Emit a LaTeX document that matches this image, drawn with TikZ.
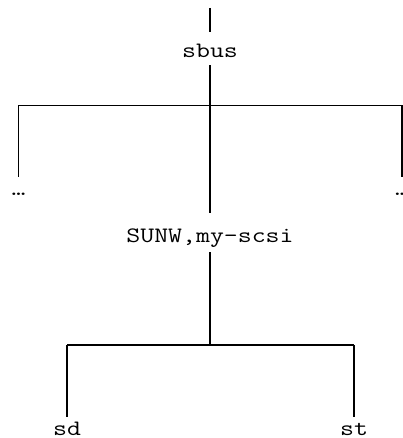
\documentclass[tikz,border=0pt]{standalone}
\begin{document}
\begin{tikzpicture}[x=1pt,y=-1pt,
  lbl/.style={font=\ttfamily\fontsize{22}{24}\selectfont, xscale=1.23, inner sep=0pt, text height=15pt, text depth=0pt, anchor=base},
  wire/.style={line width=1.3pt}]
\useasboundingbox (0,0) rectangle (403,438);
\coordinate (top) at (210,8);
\node[lbl] (sbus) at (210,58) {sbus};
\coordinate (bus1) at (210,105.5);
\coordinate (l1) at (18.5,105.5);
\coordinate (r1) at (402,105.5);
\node[lbl] (left) at (18.5,195) {…};
\node[lbl] (right) at (402,195) {…};
\node[lbl] (scsi) at (210,242) {SUNW,my-scsi};
\coordinate (bus2) at (210,345);
\coordinate (l2) at (67,345);
\coordinate (r2) at (354,345);
\node[lbl] (sd) at (67,435) {sd};
\node[lbl] (st) at (354,435) {st};
\draw[wire, shorten >=11pt] (top) -- (sbus.north);
\draw[wire, shorten <=7pt] (sbus.south) -- (bus1);
\draw[wire] (l1) -- (r1);
\draw[wire, shorten >=3pt] (l1) -- (left.north);
\draw[wire, shorten >=3pt] (r1) -- (right.north);
\draw[wire, shorten >=14pt] (bus1) -- (scsi.north);
\draw[wire, shorten <=10pt] (scsi.south) -- (bus2);
\draw[wire] (l2) -- (r2);
\draw[wire, shorten >=3pt] (l2) -- (sd.north);
\draw[wire, shorten >=3pt] (r2) -- (st.north);
\end{tikzpicture}
\end{document}
